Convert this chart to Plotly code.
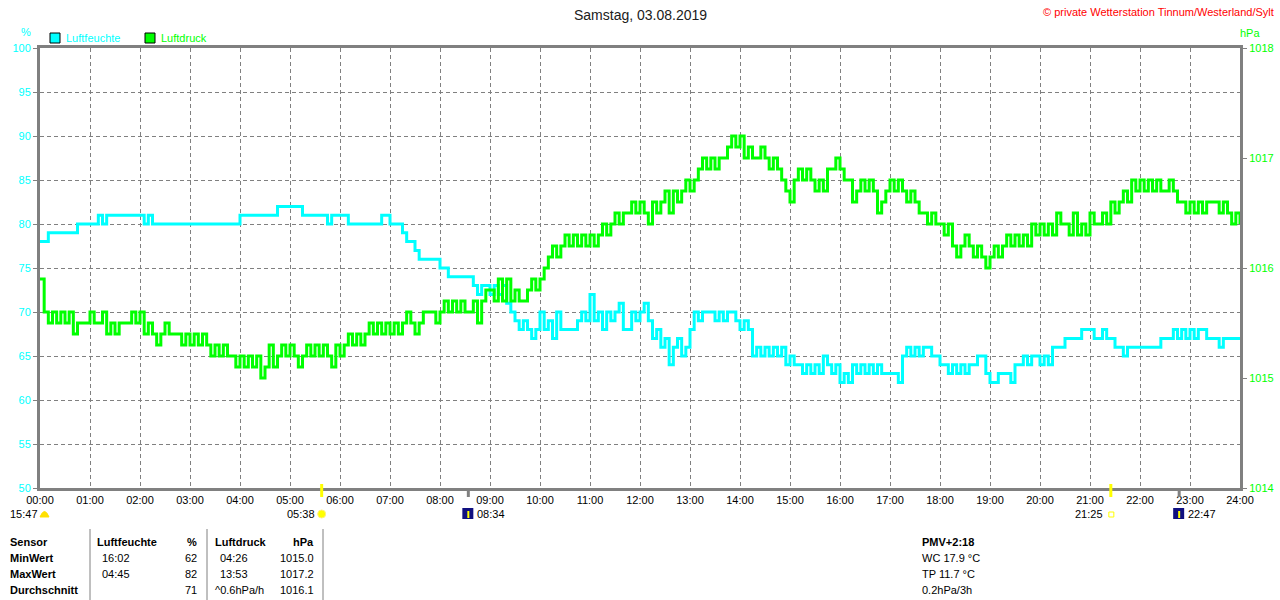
import plotly.graph_objects as go


# %% Messwerte, alle 5 Minuten (00:00 ... 23:55), je 6 Stunden ein Block
hum_00_06 = [
    78, 78, 79, 79, 79, 79, 79, 79, 79, 80, 80, 80,
    80, 80, 81, 80, 81, 81, 81, 81, 81, 81, 81, 81,
    81, 80, 81, 80, 80, 80, 80, 80, 80, 80, 80, 80,
    80, 80, 80, 80, 80, 80, 80, 80, 80, 80, 80, 80,
    81, 81, 81, 81, 81, 81, 81, 81, 81, 82, 82, 82,
    82, 82, 82, 81, 81, 81, 81, 81, 81, 80, 81, 81,
]
hum_06_12 = [
    81, 81, 80, 80, 80, 80, 80, 80, 80, 80, 81, 81,
    80, 80, 80, 79, 78, 78, 77, 76, 76, 76, 76, 76,
    75, 75, 74, 74, 74, 74, 74, 74, 73, 72, 73, 73,
    72, 73, 72, 73, 71, 70, 69, 68, 69, 68, 67, 68,
    70, 68, 69, 67, 70, 68, 68, 68, 68, 69, 70, 69,
    72, 69, 70, 68, 70, 69, 70, 71, 68, 68, 70, 69,
]
hum_12_18 = [
    70, 71, 69, 67, 68, 66, 67, 64, 66, 67, 65, 66,
    68, 70, 69, 70, 70, 70, 69, 70, 69, 70, 70, 69,
    68, 69, 68, 65, 66, 65, 66, 65, 66, 65, 66, 64,
    65, 64, 64, 63, 64, 63, 64, 63, 65, 64, 63, 64,
    62, 63, 62, 64, 63, 64, 63, 64, 63, 64, 63, 63,
    63, 63, 62, 65, 66, 65, 66, 65, 66, 66, 65, 65,
]
hum_18_24 = [
    64, 64, 63, 64, 63, 64, 63, 64, 64, 65, 65, 63,
    62, 62, 63, 63, 63, 62, 64, 64, 65, 64, 65, 65,
    64, 65, 64, 66, 66, 66, 67, 67, 67, 67, 68, 68,
    68, 67, 67, 68, 67, 67, 66, 66, 65, 66, 66, 66,
    66, 66, 66, 66, 66, 67, 67, 67, 68, 67, 68, 67,
    68, 67, 68, 68, 67, 67, 67, 66, 67, 67, 67, 67,
    67,
]

press_00_06 = [
    1015.9, 1015.6, 1015.5, 1015.6, 1015.5, 1015.6, 1015.5, 1015.6, 1015.4, 1015.5, 1015.5, 1015.5,
    1015.6, 1015.5, 1015.5, 1015.6, 1015.4, 1015.5, 1015.4, 1015.5, 1015.5, 1015.5, 1015.6, 1015.5,
    1015.6, 1015.4, 1015.5, 1015.4, 1015.3, 1015.4, 1015.5, 1015.4, 1015.4, 1015.4, 1015.3, 1015.4,
    1015.3, 1015.4, 1015.3, 1015.4, 1015.3, 1015.2, 1015.3, 1015.2, 1015.3, 1015.2, 1015.2, 1015.1,
    1015.2, 1015.1, 1015.2, 1015.1, 1015.2, 1015.0, 1015.1, 1015.3, 1015.1, 1015.2, 1015.3, 1015.2,
    1015.3, 1015.2, 1015.1, 1015.2, 1015.3, 1015.2, 1015.3, 1015.2, 1015.3, 1015.2, 1015.1, 1015.3,
]
press_06_12 = [
    1015.2, 1015.3, 1015.4, 1015.3, 1015.4, 1015.3, 1015.4, 1015.5, 1015.4, 1015.5, 1015.4, 1015.5,
    1015.4, 1015.5, 1015.4, 1015.5, 1015.6, 1015.5, 1015.4, 1015.5, 1015.6, 1015.6, 1015.6, 1015.5,
    1015.6, 1015.7, 1015.6, 1015.7, 1015.6, 1015.7, 1015.6, 1015.6, 1015.7, 1015.5, 1015.7, 1015.8,
    1015.8, 1015.7, 1015.9, 1015.7, 1015.9, 1015.7, 1015.8, 1015.7, 1015.7, 1015.8, 1015.9, 1015.8,
    1015.9, 1016.0, 1016.1, 1016.2, 1016.1, 1016.2, 1016.3, 1016.2, 1016.3, 1016.2, 1016.3, 1016.2,
    1016.3, 1016.2, 1016.3, 1016.4, 1016.3, 1016.4, 1016.5, 1016.4, 1016.5, 1016.5, 1016.6, 1016.5,
]
press_12_18 = [
    1016.6, 1016.5, 1016.4, 1016.6, 1016.5, 1016.6, 1016.7, 1016.5, 1016.7, 1016.6, 1016.7, 1016.8,
    1016.7, 1016.8, 1016.9, 1017.0, 1016.9, 1017.0, 1016.9, 1017.0, 1017.0, 1017.1, 1017.2, 1017.1,
    1017.2, 1017.0, 1017.1, 1017.0, 1017.0, 1017.1, 1017.0, 1016.9, 1017.0, 1016.9, 1016.8, 1016.7,
    1016.6, 1016.8, 1016.9, 1016.8, 1016.9, 1016.8, 1016.7, 1016.8, 1016.7, 1016.9, 1016.9, 1017.0,
    1016.9, 1016.8, 1016.8, 1016.6, 1016.7, 1016.8, 1016.7, 1016.8, 1016.7, 1016.5, 1016.6, 1016.7,
    1016.8, 1016.7, 1016.8, 1016.7, 1016.6, 1016.7, 1016.6, 1016.5, 1016.5, 1016.4, 1016.5, 1016.4,
]
press_18_24 = [
    1016.4, 1016.3, 1016.4, 1016.2, 1016.1, 1016.2, 1016.3, 1016.2, 1016.1, 1016.2, 1016.1, 1016.0,
    1016.1, 1016.2, 1016.1, 1016.2, 1016.3, 1016.2, 1016.3, 1016.2, 1016.3, 1016.2, 1016.4, 1016.3,
    1016.4, 1016.3, 1016.4, 1016.3, 1016.5, 1016.4, 1016.4, 1016.3, 1016.5, 1016.3, 1016.4, 1016.3,
    1016.5, 1016.4, 1016.4, 1016.5, 1016.4, 1016.6, 1016.5, 1016.6, 1016.7, 1016.6, 1016.8, 1016.7,
    1016.8, 1016.7, 1016.8, 1016.7, 1016.8, 1016.7, 1016.7, 1016.8, 1016.7, 1016.6, 1016.6, 1016.5,
    1016.6, 1016.5, 1016.6, 1016.5, 1016.6, 1016.6, 1016.6, 1016.5, 1016.6, 1016.5, 1016.4, 1016.5,
    1016.4,
]

hour_labels = ["%02d:00" % h for h in range(25)]

# Sonne / Mond
astro_times = ["05:38", "08:34", "21:25", "22:47"]
astro_kind = ["sunrise", "moonrise", "sunset", "moonset"]
moon_info = "15:47"

# Tabelle unten
row_labels = ["Sensor", "MinWert", "MaxWert", "Durchschnitt"]
hum_head = ["Luftfeuchte", "%"]
hum_time = ["16:02", "04:45", ""]
hum_value = ["62", "82", "71"]
press_head = ["Luftdruck", "hPa"]
press_time = ["04:26", "13:53", "^0.6hPa/h"]
press_value = ["1015.0", "1017.2", "1016.1"]
extra_head = "PMV+2:18"
extra_lines = ["WC 17.9 °C", "TP 11.7 °C", "0.2hPa/3h"]


# %%
humidity = hum_00_06 + hum_06_12 + hum_12_18 + hum_18_24
pressure = press_00_06 + press_06_12 + press_12_18 + press_18_24
minutes = list(range(0, len(humidity) * 5, 5))

CYAN = "#00FFFF"
GREEN = "#00FF00"
GRAY = "#808080"
FONT = "Liberation Sans, Arial, sans-serif"

W, H = 1280, 600
L, R, T, B = 40, 40, 48, 112


def px(x):
    return (x - L) / (W - L - R)


def py(y):
    return (H - B - y) / (H - T - B)


def to_min(s):
    h, m = s.split(":")
    return int(h) * 60 + int(m)


fig = go.Figure()
fig.add_trace(go.Scatter(
    x=minutes, y=pressure, yaxis="y2", mode="lines", name="Luftdruck",
    line=dict(color=GREEN, width=3, shape="hv"),
))
fig.add_trace(go.Scatter(
    x=minutes, y=humidity, mode="lines", name="Luftfeuchte",
    line=dict(color=CYAN, width=3, shape="hv"),
))

fig.update_layout(
    width=W, height=H, autosize=False,
    margin=dict(l=L, r=R, t=T, b=B, pad=0, autoexpand=False),
    paper_bgcolor="white", plot_bgcolor="white",
    showlegend=False,
    font=dict(family=FONT, size=11, color="black"),
    xaxis=dict(
        range=[0, 1440], tickvals=list(range(0, 1441, 60)), ticktext=hour_labels,
        showgrid=True, gridcolor=GRAY, gridwidth=1, griddash="4px,3px",
        showline=True, linecolor=GRAY, linewidth=3, mirror=True,
        ticks="", zeroline=False, automargin=False, tickfont=dict(size=11, color="black"),
    ),
    yaxis=dict(
        range=[50, 100], tick0=50, dtick=5,
        showgrid=True, gridcolor=GRAY, gridwidth=1, griddash="4px,3px",
        showline=True, linecolor=GRAY, linewidth=3,
        ticks="outside", ticklen=4, tickcolor=GRAY, zeroline=False, automargin=False,
        tickfont=dict(size=11, color=CYAN),
    ),
    yaxis2=dict(
        range=[1014, 1018], tick0=1014, dtick=1, overlaying="y", side="right",
        showgrid=False, showline=True, linecolor=GRAY, linewidth=3,
        ticks="outside", ticklen=4, tickcolor=GRAY, zeroline=False, automargin=False,
        tickformat="d", tickfont=dict(size=11, color=GREEN),
    ),
)

ann = []
shapes = []


def text(x, y, s, color="black", size=11, anchor="left", bold=False):
    ann.append(dict(
        x=px(x), y=py(y), xref="paper", yref="paper", text="<b>%s</b>" % s if bold else s,
        showarrow=False, xanchor=anchor, yanchor="middle",
        font=dict(family=FONT, size=size, color=color),
    ))


# Kopfzeile
text(640, 15, "Samstag, 03.08.2019", color="#202020", size=14, anchor="center")
text(1276, 12, "© private Wetterstation Tinnum/Westerland/Sylt", color="red", size=11, anchor="right")
text(26, 32, "%", color=CYAN, anchor="center")
text(1250, 33, "hPa", color=GREEN, anchor="center")

# Legende
for x0, name, col in [(50, "Luftfeuchte", CYAN), (145, "Luftdruck", GREEN)]:
    shapes.append(dict(type="rect", xref="paper", yref="paper",
                       x0=px(x0), x1=px(x0 + 10), y0=py(43), y1=py(33),
                       fillcolor=col, line=dict(color="black", width=1)))
    text(x0 + 14, 38, name, color=col)

# Sonnen- und Mondzeiten unter der Zeitachse
text(8, 514, moon_info)
shapes.append(dict(type="path", xref="paper", yref="paper",
                   path="M %f %f Q %f %f %f %f Z" % (px(40), py(517), px(44.5), py(506), px(49), py(517)),
                   fillcolor="#FFE000", line=dict(color="#FFE000", width=1)))
for t, kind in zip(astro_times, astro_kind):
    xm = to_min(t)
    if kind.startswith("sun"):
        shapes.append(dict(type="line", xref="x", yref="paper", x0=xm, x1=xm,
                           y0=py(484), y1=py(497), line=dict(color="#FFFF00", width=3)))
    else:
        shapes.append(dict(type="line", xref="x", yref="paper", x0=xm, x1=xm,
                           y0=py(488), y1=py(497), line=dict(color=GRAY, width=3)))
    xp = L + xm / 1440 * (W - L - R)
    if kind == "sunrise":
        shapes.append(dict(type="circle", xref="paper", yref="paper",
                           x0=px(xp - 4), x1=px(xp + 4), y0=py(518), y1=py(510),
                           fillcolor="#FFFF00", line=dict(color="#FFF080", width=1)))
        text(xp - 5, 514, t, anchor="right")
    elif kind == "sunset":
        shapes.append(dict(type="rect", xref="paper", yref="paper",
                           x0=px(xp - 2), x1=px(xp + 3), y0=py(517), y1=py(512),
                           fillcolor="white", line=dict(color="#FFFF00", width=1)))
        text(xp - 6, 514, t, anchor="right")
    else:
        shapes.append(dict(type="rect", xref="paper", yref="paper",
                           x0=px(xp - 6), x1=px(xp + 5), y0=py(519), y1=py(508),
                           fillcolor="#101080", line=dict(width=0)))
        shapes.append(dict(type="line", xref="paper", yref="paper",
                           x0=px(xp), x1=px(xp), y0=py(518), y1=py(511),
                           line=dict(color="#FFFF00", width=2)))
        text(xp + 7, 514, t)

# Tabelle
rows_y = [542, 558, 574, 590]
for x in (90, 207, 323):
    shapes.append(dict(type="line", xref="paper", yref="paper",
                       x0=px(x), x1=px(x), y0=py(529), y1=py(600),
                       line=dict(color=GRAY, width=1)))
for y, lab in zip(rows_y, row_labels):
    text(8, y, lab, bold=True)
text(95, rows_y[0], hum_head[0], bold=True)
text(199, rows_y[0], hum_head[1], bold=True, anchor="right")
text(213, rows_y[0], press_head[0], bold=True)
text(316, rows_y[0], press_head[1], bold=True, anchor="right")
for y, ht, hv, pt, pv in zip(rows_y[1:], hum_time, hum_value, press_time, press_value):
    text(100, y, ht)
    text(199, y, hv, anchor="right")
    text(213 if pt.startswith("^") else 218, y, pt)
    text(316, y, pv, anchor="right")

text(920, rows_y[0], extra_head, bold=True)
for y, s in zip(rows_y[1:], extra_lines):
    text(920, y, s)

fig.update_layout(annotations=ann, shapes=shapes)
fig.write_html(
    "out.html",
    config={"displayModeBar": False, "responsive": False},
    post_script="document.body.style.margin='0';document.body.style.overflow='hidden';",
)
